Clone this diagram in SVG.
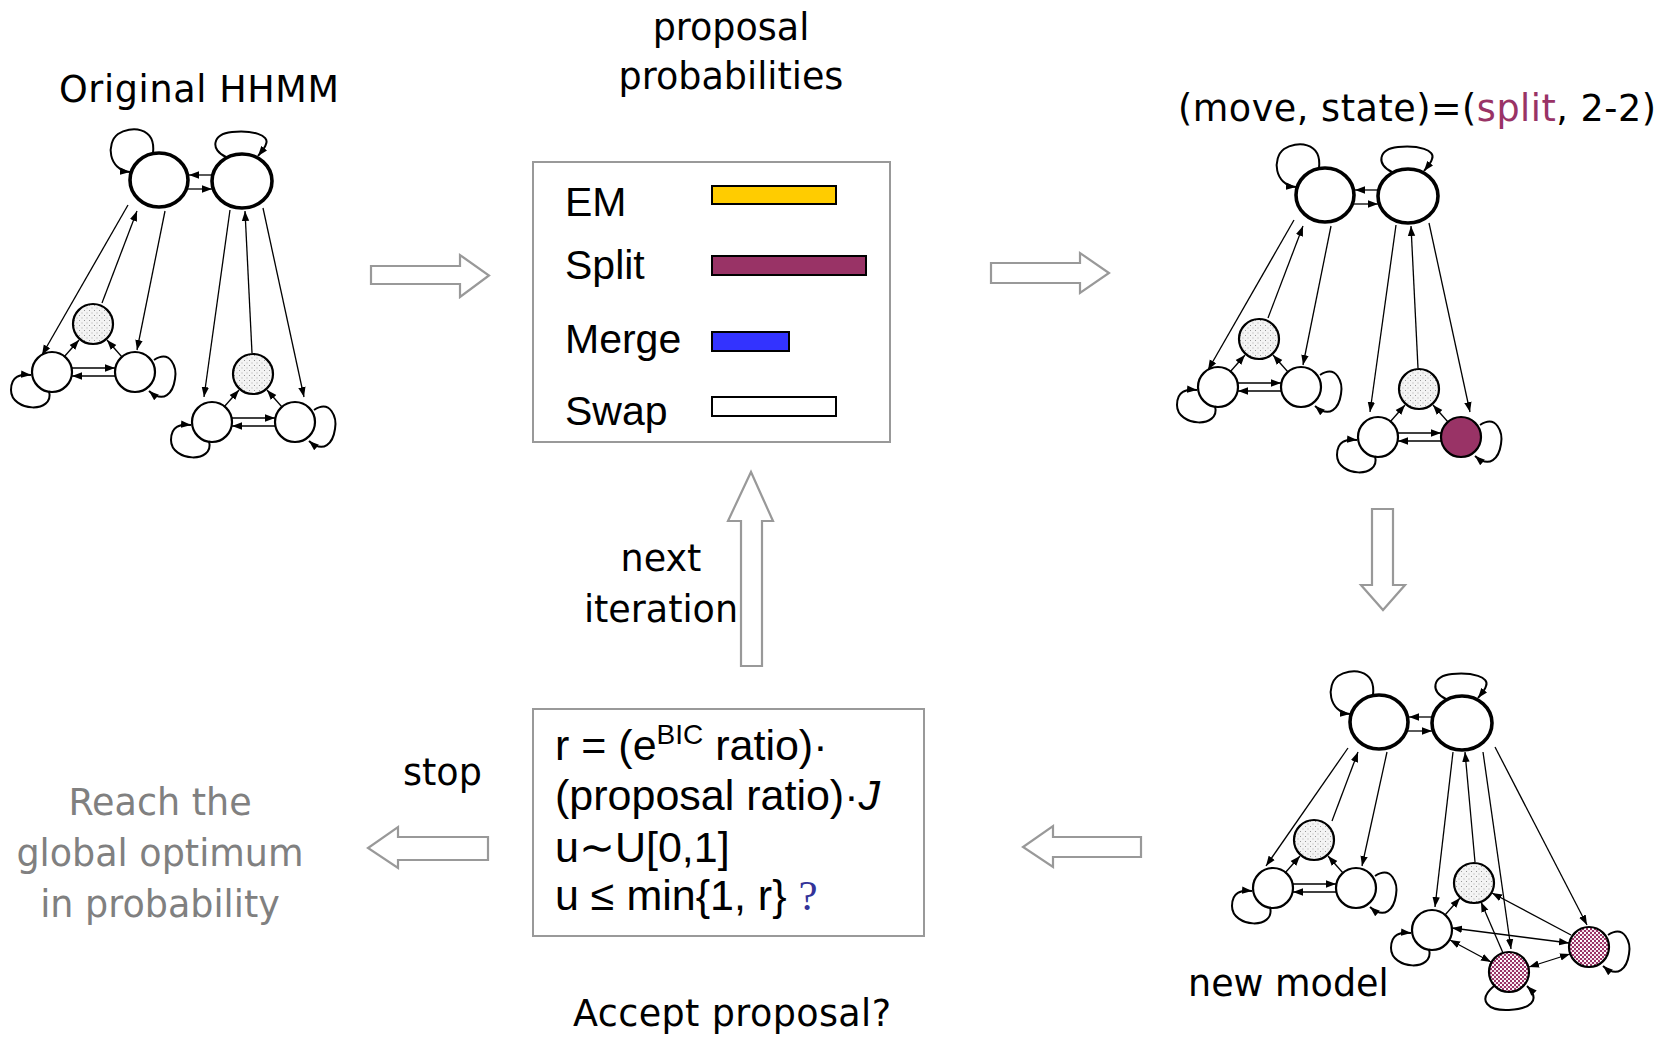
<svg xmlns="http://www.w3.org/2000/svg" xmlns:xlink="http://www.w3.org/1999/xlink" width="1671" height="1037" viewBox="0 0 1671 1037">
<style>
.bg{fill:#fff}
.big{fill:#fff;stroke:#000;stroke-width:3.6}
.sm{fill:#fff;stroke:#000;stroke-width:2.2}
.dot{fill:url(#dots)}
.chk{fill:url(#checks)}
.pur{fill:#993366}
.ln{fill:none;stroke:#000;stroke-width:1.3;marker-end:url(#ah)}
.bi{marker-start:url(#ah)}
.loop{fill:none;stroke:#000;stroke-width:2;marker-end:url(#ah)}
.blk{fill:#fff;stroke:#999;stroke-width:2.2;stroke-linejoin:miter}
.box{fill:#fff;stroke:#999;stroke-width:2}
.t{font-family:"DejaVu Sans","Liberation Sans",sans-serif;font-size:36.5px;fill:#000}
.g{fill:#808080}
.a{font-family:"Liberation Sans",Arial,sans-serif;fill:#000}
.bar{stroke:#000;stroke-width:2}
</style>
<defs>
<marker id="ah" markerUnits="userSpaceOnUse" markerWidth="11" markerHeight="9" refX="10" refY="4.5" orient="auto-start-reverse">
<path d="M0,0.8 L10,4.5 L0,8.2 z" fill="#000"/>
</marker>
<pattern id="dots" patternUnits="userSpaceOnUse" width="5" height="5">
<rect width="5" height="5" fill="#f4f4f4"/>
<rect x="1" y="1" width="1" height="1" fill="#999"/>
<rect x="3.5" y="3.5" width="1" height="1" fill="#aaa"/>
</pattern>
<pattern id="checks" patternUnits="userSpaceOnUse" width="4" height="4">
<rect width="4" height="4" fill="#993366"/>
<rect x="0" y="0" width="2" height="2" fill="#fff"/>
<rect x="2" y="2" width="2" height="2" fill="#f3dde8"/>
</pattern>
<g id="topPair">
<ellipse class="big" cx="159" cy="180" rx="29" ry="27"/>
<ellipse class="big" cx="242" cy="181" rx="30" ry="27"/>
<path class="loop" d="M153,153 C156,126 130,126 118,134 C106,143 108,170 130,172"/>
<path class="loop" d="M226,157 C210,150 212,134 232,132 C252,130 270,135 266,144 C265,148 262,151 258,156"/>
<line class="ln" x1="213" y1="175" x2="189" y2="175"/>
<line class="ln" x1="186" y1="189" x2="212" y2="189"/>
</g>
<g id="triLines">
<line class="ln" x1="-29" y1="33" x2="-14" y2="16"/>
<line class="ln" x1="29" y1="33" x2="14" y2="16"/>
<line class="ln" x1="-21" y1="44" x2="22" y2="44"/>
<line class="ln" x1="22" y1="52" x2="-21" y2="52"/>
<path class="loop" d="M-44,67 C-38,90 -82,88 -82,66 C-82,52 -73,50 -62,51"/>
<path class="loop" d="M61,36 C78,25 84,44 82,55 C80,69 71,80 56,67"/>
</g>
<g id="tri">
<circle class="sm dot" cx="0" cy="0" r="20"/>
<circle class="sm" cx="-41" cy="48" r="20"/>
<circle class="sm" cx="42" cy="48" r="20"/>
<use xlink:href="#triLines"/>
</g>
<g id="triP">
<circle class="sm dot" cx="0" cy="0" r="20"/>
<circle class="sm" cx="-41" cy="48" r="20"/>
<circle class="sm pur" cx="42" cy="48" r="20"/>
<use xlink:href="#triLines"/>
</g>
<g id="hhmmLines">
<line class="ln" x1="128" y1="205" x2="42" y2="355"/>
<line class="ln" x1="102" y1="303" x2="137" y2="211"/>
<line class="ln" x1="165" y1="211" x2="137" y2="350"/>
<line class="ln" x1="230" y1="210" x2="204" y2="397"/>
<line class="ln" x1="252" y1="353" x2="245" y2="211"/>
<line class="ln" x1="263" y1="208" x2="304" y2="397"/>
</g>
</defs>
<rect class="bg" width="1671" height="1037"/>

<g id="original-hhmm">
<text class="t" x="59" y="102" textLength="280">Original HHMM</text>
<use xlink:href="#topPair"/>
<use xlink:href="#tri" x="93" y="324"/>
<use xlink:href="#tri" x="253" y="374"/>
<use xlink:href="#hhmmLines"/>
</g>

<g id="proposal-probabilities">
<text class="t" x="731" y="40" text-anchor="middle">proposal</text>
<text class="t" x="731" y="89" text-anchor="middle">probabilities</text>
<rect class="box" x="533" y="162" width="357" height="280"/>
<text class="a" x="565" y="216" font-size="41">EM</text>
<text class="a" x="565" y="279" font-size="41">Split</text>
<text class="a" x="565" y="353" font-size="41">Merge</text>
<text class="a" x="565" y="425" font-size="41">Swap</text>
<rect class="bar" x="712" y="186" width="124" height="18" fill="#FFCC00"/>
<rect class="bar" x="712" y="256" width="154" height="19" fill="#993366"/>
<rect class="bar" x="712" y="332" width="77" height="19" fill="#3333FF"/>
<rect class="bar" x="712" y="397" width="124" height="19" fill="#FFFFFF"/>
</g>

<g id="proposed-hhmm">
<text class="t" x="1178" y="121" textLength="478">(move, state)=(<tspan fill="#993366">split</tspan>, 2-2)</text>
<g transform="translate(1166,15)">
<use xlink:href="#topPair"/>
<use xlink:href="#tri" x="93" y="324"/>
<use xlink:href="#triP" x="253" y="374"/>
<use xlink:href="#hhmmLines"/>
</g>
</g>

<g id="new-model">
<text class="t" x="1188" y="996">new model</text>
<use xlink:href="#topPair" transform="translate(1220,542)"/>
<use xlink:href="#tri" x="1314" y="840"/>
<line class="ln" x1="1348" y1="748" x2="1266" y2="866"/>
<line class="ln" x1="1332" y1="821" x2="1358" y2="752"/>
<line class="ln" x1="1387" y1="752" x2="1362" y2="866"/>
<circle class="sm dot" cx="1474" cy="883" r="20"/>
<circle class="sm" cx="1432" cy="930" r="20"/>
<circle class="sm chk" cx="1509" cy="972" r="20"/>
<circle class="sm chk" cx="1589" cy="947" r="20"/>
<line class="ln" x1="1453" y1="752" x2="1435" y2="907"/>
<line class="ln" x1="1475" y1="862" x2="1465" y2="752"/>
<line class="ln" x1="1483" y1="752" x2="1511" y2="949"/>
<line class="ln" x1="1495" y1="747" x2="1587" y2="925"/>
<line class="ln bi" x1="1452" y1="928" x2="1569" y2="943"/>
<line class="ln bi" x1="1450" y1="940" x2="1491" y2="962"/>
<line class="ln bi" x1="1529" y1="967" x2="1570" y2="954"/>
<line class="ln" x1="1571" y1="935" x2="1492" y2="893"/>
<line class="ln" x1="1503" y1="953" x2="1481" y2="902"/>
<line class="ln" x1="1445" y1="915" x2="1460" y2="898"/>
<path class="loop" d="M1429,949 C1435,972 1391,970 1391,948 C1391,934 1400,932 1411,933"/>
<path class="loop" d="M1608,935 C1625,924 1631,943 1629,954 C1627,968 1618,979 1603,966"/>
<path class="loop" d="M1494,986 C1476,1001 1489,1011 1509,1010 C1529,1009 1542,1001 1527,986"/>
</g>

<g id="acceptance-test">
<rect class="box" x="533" y="709" width="391" height="227"/>
<text class="a" font-size="43" x="555" y="760">r = (e<tspan font-size="28" dy="-16">BIC</tspan><tspan dy="16"> ratio)·</tspan></text>
<text class="a" font-size="43" x="555" y="810">(proposal ratio)·<tspan font-style="italic">J</tspan></text>
<text class="a" font-size="43" x="555" y="862">u∼U[0,1]</text>
<text class="a" font-size="43" x="555" y="910">u ≤ min{1, r} <tspan font-family="Liberation Serif,serif" fill="#333399">?</tspan></text>
<text class="t" x="732" y="1026" text-anchor="middle" textLength="318">Accept proposal?</text>
</g>

<g id="next-iteration-label">
<text class="t" x="661" y="571" text-anchor="middle">next</text>
<text class="t" x="661" y="622" text-anchor="middle">iteration</text>
</g>

<g id="stop-label">
<text class="t" x="403" y="785">stop</text>
</g>

<g id="global-optimum">
<text class="t g" x="160" y="815" text-anchor="middle">Reach the</text>
<text class="t g" x="160" y="866" text-anchor="middle">global optimum</text>
<text class="t g" x="160" y="917" text-anchor="middle">in probability</text>
</g>

<g id="connectors">
<polygon class="blk" points="371,266 460,266 460,255 489,275.5 460,297 460,284 371,284"/>
<polygon class="blk" points="991,263 1080,263 1080,253 1109,273 1080,293 1080,283 991,283"/>
<polygon class="blk" points="1372,509 1393,509 1393,585 1405,585 1383,610 1361,585 1372,585"/>
<polygon class="blk" points="1141,837 1053,837 1053,826 1023,847 1053,867 1053,857 1141,857"/>
<polygon class="blk" points="741,666 741,521 728,521 751,472 773,521 762,521 762,666"/>
<polygon class="blk" points="488,837 398,837 398,827 368,848 398,868 398,860 488,860"/>
</g>
</svg>
